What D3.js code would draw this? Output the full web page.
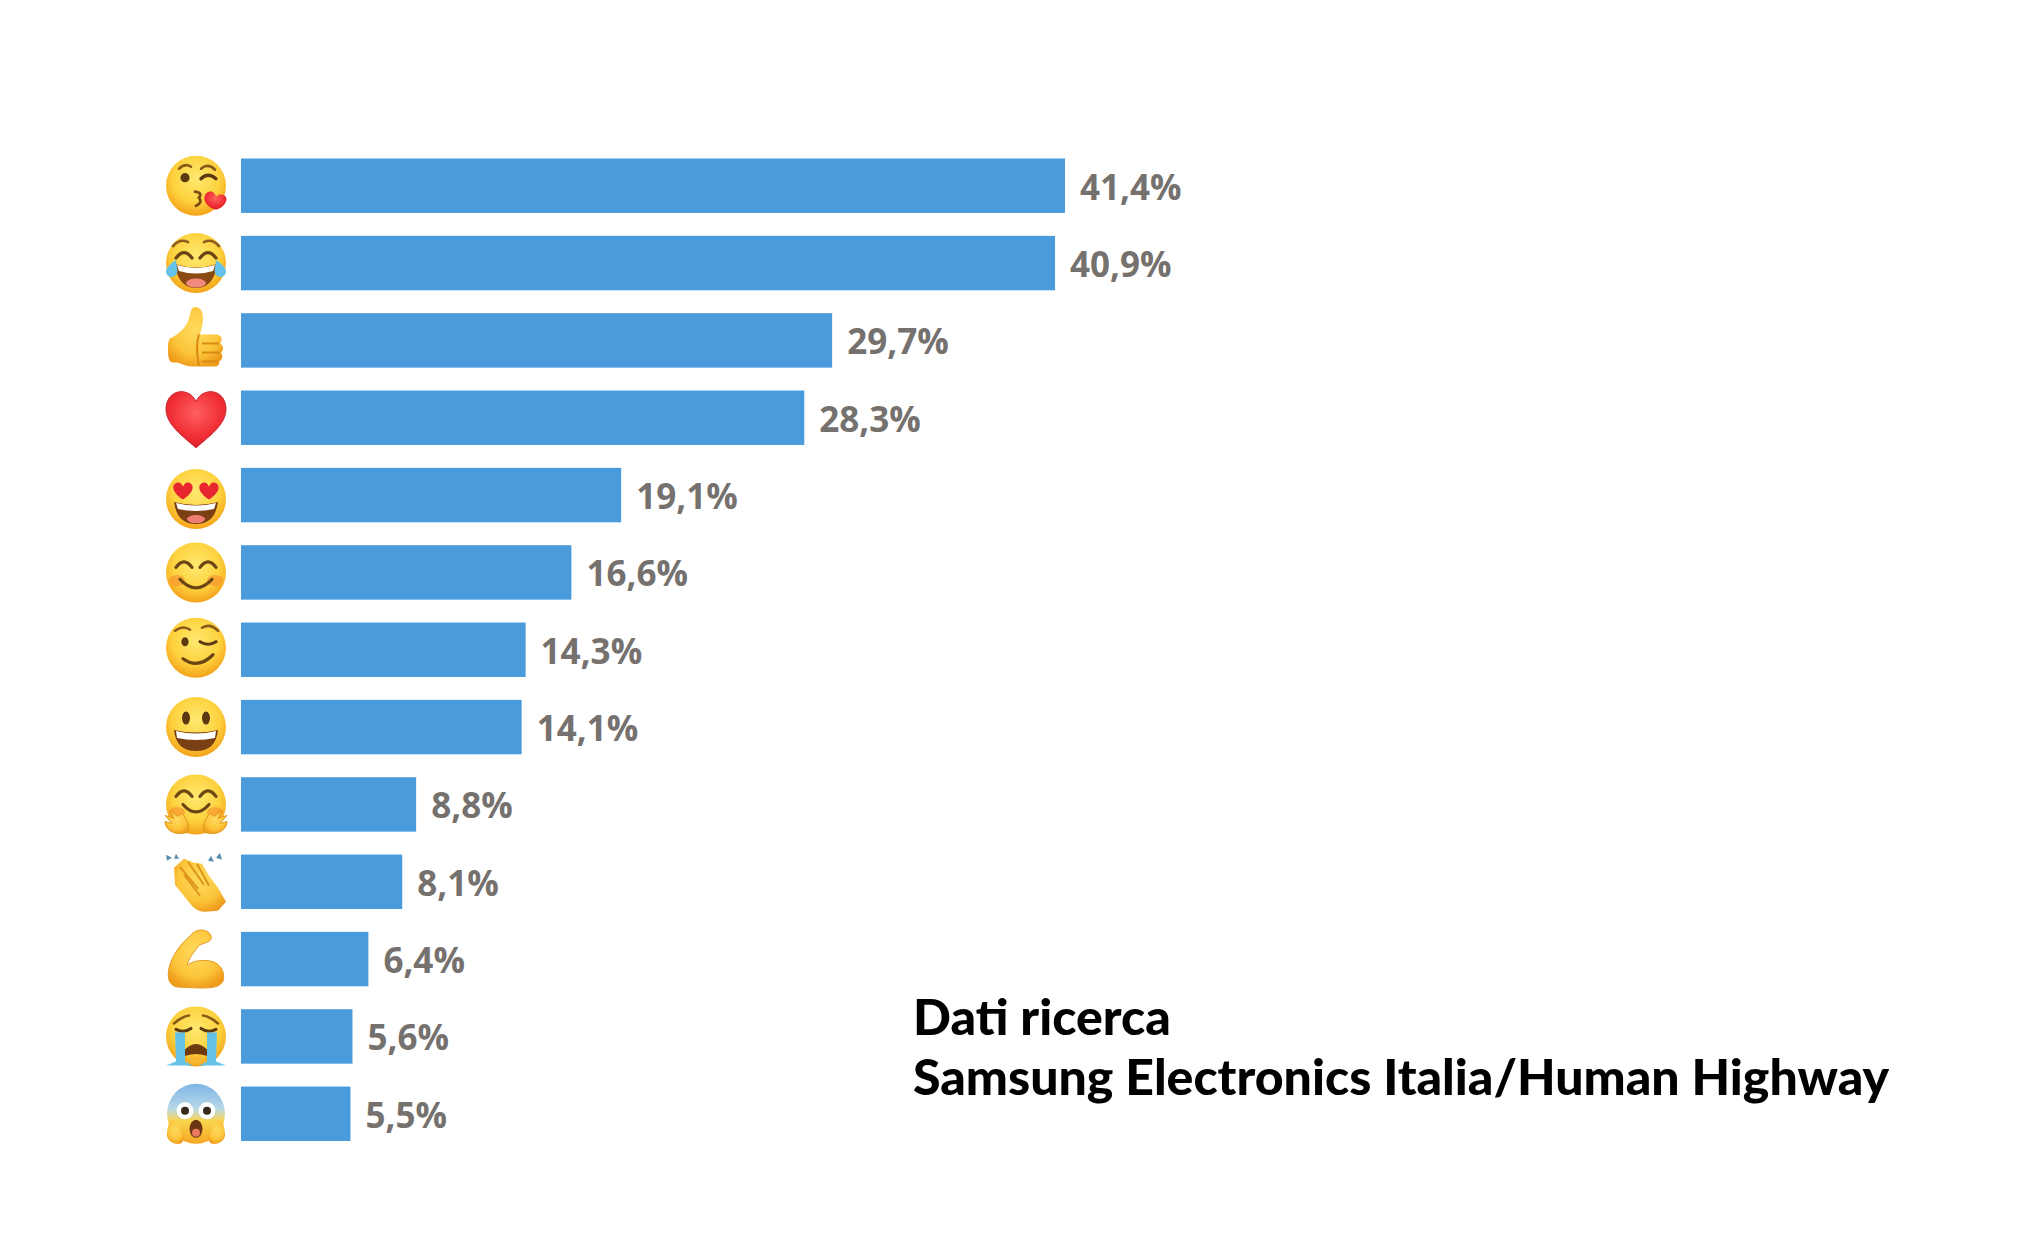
<!DOCTYPE html>
<html><head><meta charset="utf-8">
<script src="https://cdn.jsdelivr.net/npm/d3@7/dist/d3.min.js"></script>
<style>html,body{margin:0;padding:0;background:#fff;overflow:hidden}svg{display:block}</style>
</head><body><svg id="c" width="2033" height="1260"></svg>
<script>
const categories = ["kiss","joy","thumb","heart","hearteyes","smile","wink","grin","hug","clap","muscle","cry","scream"];
const values = [41.4,40.9,29.7,28.3,19.1,16.6,14.3,14.1,8.8,8.1,6.4,5.6,5.5];
const noteLines = ["Dati ricerca","Samsung Electronics Italia/Human Highway"];

const fmt = d3.formatLocale({decimal:",",thousands:".",grouping:[3],currency:["","€"]}).format(".1f");
const svg = d3.select("#c");
const x = d3.scaleLinear().domain([0,41.4]).range([241,1065]);
const y = d3.scaleBand().domain(categories).range([158.5,1141]).paddingInner(0.296);

const defs = svg.append("defs");
function radial(id,stops){const g=defs.append("radialGradient").attr("id",id).attr("cx","50%").attr("cy","38%").attr("r","65%");
  stops.forEach(s=>g.append("stop").attr("offset",s[0]).attr("stop-color",s[1]));}
radial("face",[["0","#ffe971"],["0.6","#fdd23e"],["1","#f39c16"]]);
radial("hand",[["0","#ffdb5e"],["0.65","#fcc53a"],["1","#ee9a1a"]]);
radial("red",[["0","#ff6060"],["0.7","#ee2b32"],["1","#d81f2a"]]);
const fearG = defs.append("linearGradient").attr("id","fearF").attr("x1",0).attr("y1",0).attr("x2",0).attr("y2",1);
[["0","#7fb4e6"],["0.42","#b9d9e8"],["0.62","#fbd44e"],["1","#f5a623"]].forEach(s=>fearG.append("stop").attr("offset",s[0]).attr("stop-color",s[1]));

const F = '<circle r="30" fill="url(#face)"/>';
const blush = '<ellipse cx="-19" cy="8" rx="8" ry="5.5" fill="#f78d2e" opacity=".6"/><ellipse cx="19" cy="8" rx="8" ry="5.5" fill="#f78d2e" opacity=".6"/>';
const arcEye = (cx,cy)=>`<path d="M${cx-8} ${cy+3}Q${cx} ${cy-8} ${cx+8} ${cy+3}" fill="none" stroke="#6b4413" stroke-width="3.2" stroke-linecap="round"/>`;
const heartEye = cx=>`<g transform="translate(${cx} -8) scale(1.05)"><path d="M0 8C-11 1-11-6-6-8C-3-9-1-7 0-4C1-7 3-9 6-8C11-6 11 1 0 8Z" fill="#e8262f"/></g>`;
const icons = {
 kiss: F+`<path d="M-17-17Q-11-23-5-19M5-17Q12-23 19-16" fill="none" stroke="#8a5a1a" stroke-width="2.6" stroke-linecap="round"/>
  <circle cx="-11" cy="-8" r="4.6" fill="#5b3a12"/><path d="M5-7Q12-14 20-7" fill="none" stroke="#5b3a12" stroke-width="3.4" stroke-linecap="round"/>
  <path d="M-1 6Q7 7 3 12Q7 17 0 20" fill="none" stroke="#7a4c14" stroke-width="2.8" stroke-linecap="round"/>`+
  `<path d="M20 24C6 20 6 8 13 6C17 5 19 8 20 11C23 8 27 8 30 11C32 15 28 22 20 24Z" fill="url(#red)"/>`,
 joy: F+`<path d="M-23-17Q-16-25-8-21M8-21Q16-25 23-17" fill="none" stroke="#8a5a1a" stroke-width="2.6" stroke-linecap="round"/>`+arcEye(-12,-8)+arcEye(12,-8)+
  `<path d="M-21 1Q0 8 21 1Q18 25 0 25Q-18 25-21 1Z" fill="#8b4a14"/><path d="M-19 2Q0 8 19 2L17 8Q0 13-17 8Z" fill="#fff"/><ellipse cy="20" rx="10" ry="4.5" fill="#f18a7e"/>
  <path d="M-20-3C-28 2-33 8-28 13C-23 16-17 12-19 5Z" fill="#64c3e8"/><path d="M20-3C28 2 33 8 28 13C23 16 17 12 19 5Z" fill="#64c3e8"/>`,
 thumb: `<g transform="translate(0 -3)"><path d="M-26 1C-20-2-13-7-9-14C-6-20-6-27-3-30C2-32 7-28 7-20C7-13 5-7 4-3H20C26-3 27 3 24 6C28 8 28 13 25 15C27 18 27 22 23 24C24 27 22 29 18 29H-4C-10 29-14 26-19 25H-23C-27 25-28 20-28 12C-28 7-28 3-26 1Z" fill="url(#hand)"/>
  <path d="M3-3Q-1 10 3 28M6 6H23M6 15H24M6 24H22" fill="none" stroke="#d98a14" stroke-width="2"/></g>`,
 heart: `<path d="M0 30C-18 15-30 5-30-9C-30-21-21-27-13-26C-6-25-2-21 0-16C2-21 6-25 13-26C21-27 30-21 30-9C30 5 18 15 0 30Z" fill="url(#red)" stroke="#c82a32" stroke-width="1"/>`,
 hearteyes: `<g transform="translate(0 4)">`+F+`<path d="M-22 3Q0 9 22 3Q19 25 0 25Q-19 25-22 3Z" fill="#7a3f12"/><path d="M-20 4Q0 9 20 4L18 10Q0 14-18 10Z" fill="#fff"/><ellipse cy="20" rx="9" ry="4" fill="#ef7e72"/>`+heartEye(-13)+heartEye(13)+`</g>`,
 smile: F+blush+arcEye(-12,-8)+arcEye(12,-8)+`<path d="M-16 7Q0 24 16 7" fill="none" stroke="#6b4413" stroke-width="3.2" stroke-linecap="round"/>`,
 wink: `<g transform="translate(0 -2)">`+F+`<path d="M-21-17Q-13-23-6-18M6-20Q14-25 22-17" fill="none" stroke="#8a5a1a" stroke-width="2.6" stroke-linecap="round"/>
  <ellipse cx="-11" cy="-6" rx="3.6" ry="4.6" fill="#5b3a12"/><path d="M4-6Q12-1 20-6" fill="none" stroke="#5b3a12" stroke-width="3.2" stroke-linecap="round"/>
  <path d="M-13 11Q2 22 17 7" fill="none" stroke="#6b4413" stroke-width="3.2" stroke-linecap="round"/></g>`,
 grin: F+`<ellipse cx="-10" cy="-9" rx="4" ry="6.5" fill="#5b3a12"/><ellipse cx="10" cy="-9" rx="4" ry="6.5" fill="#5b3a12"/>
  <path d="M-22 3Q0 8 22 3Q20 24 0 24Q-20 24-22 3Z" fill="#7a3f12"/><path d="M-20 4Q0 9 20 4L19 11Q0 15-19 11Z" fill="#fff"/>`,
 hug: F+blush+arcEye(-12,-11)+arcEye(12,-11)+`<path d="M-13 0Q0 15 13 0" fill="none" stroke="#6b4413" stroke-width="3.2" stroke-linecap="round"/>
  <path d="M-14 29C-24 30-31 24-31 17L-24 19L-31 11L-22 14L-27 6L-18 12L-14 9C-9 14-6 22-8 28Z" fill="url(#hand)" stroke="#e39a1f" stroke-width="1"/>
  <path d="M14 29C24 30 31 24 31 17L24 19L31 11L22 14L27 6L18 12L14 9C9 14 6 22 8 28Z" fill="url(#hand)" stroke="#e39a1f" stroke-width="1"/>`,
 clap: `<path d="M-22-14L-12-23L-2-19L6-18L13-6L22 6L30 20L22 29L9 30C0 30-4 24-9 18L-21 3Z" fill="url(#hand)"/>
  <path d="M-16-15L2 7M-8-20L8 3M1-18L13 4M-12-7L4 14" stroke="#dc9418" stroke-width="2" fill="none"/>
  <path d="M-30-27l6 3-5 3zM-20-28l3 5-5 0zM15-26l3 6-6-1zM24-29l2 7-6-2z" fill="#5a8fb0"/>`,
 muscle: `<path d="M-18 28C-27 27-29 19-27 9C-24-3-16-15-6-23C-2-29 6-31 12-27C17-24 16-18 11-17C7-15 3-15 1-11C-3-6-8 1-9 6C-2 1 10 0 18 3C27 7 29 16 27 22C22 31 8 29-18 28Z" fill="url(#hand)" stroke="#e39a1f" stroke-width="1"/>`,
 cry: F+`<path d="M-22-13Q-14-20-7-21M7-21Q14-20 22-13" fill="none" stroke="#8a5a1a" stroke-width="2.6" stroke-linecap="round"/><path d="M-20-7Q-12-3-5-8M5-8Q12-3 20-7" fill="none" stroke="#5b3a12" stroke-width="3" stroke-linecap="round"/>
  <path d="M-13 15Q0 0 13 15L13 20Q0 15-13 20Z" fill="#6b3a12"/><path d="M-9 22Q0 18 9 22Q8 27 0 27Q-8 27-9 22Z" fill="#f7b733"/>
  <path d="M-21-4L-11-4L-11 25L-3 29H-30L-20 25Z" fill="#63c2e6"/><path d="M21-4L11-4L11 25L3 29H30L20 25Z" fill="#63c2e6"/>`,
 scream: `<ellipse rx="29" ry="30" fill="url(#fearF)"/><circle cx="-11" cy="-3" r="8.5" fill="#fff"/><circle cx="11" cy="-3" r="8.5" fill="#fff"/><circle cx="-11" cy="-3" r="4" fill="#3a2a1c"/><circle cx="11" cy="-3" r="4" fill="#3a2a1c"/>
  <ellipse cy="15" rx="6.5" ry="9" fill="#6b3412"/><ellipse cy="19" rx="4" ry="4" fill="#e87a5e"/>
  <path d="M-16 30C-24 31-30 26-29 19C-28 11-27 6-22 7C-18 8-16 16-13 20C-11 24-12 28-16 30Z" fill="url(#hand)"/><path d="M16 30C24 31 30 26 29 19C28 11 27 6 22 7C18 8 16 16 13 20C11 24 12 28 16 30Z" fill="url(#hand)"/>`
};

svg.append("g").selectAll("rect").data(categories).join("rect")
  .attr("x",x(0)).attr("y",d=>y(d)).attr("height",y.bandwidth())
  .attr("width",(d,i)=>x(values[i])-x(0)).attr("fill","#4a9bdc");

svg.append("g").selectAll("g").data(categories).join("g")
  .attr("transform",d=>`translate(196 ${y(d)+y.bandwidth()/2})`)
  .html(d=>icons[d]);

svg.append("g").selectAll("text").data(categories).join("text")
  .attr("x",(d,i)=>x(values[i])+15).attr("y",d=>y(d)+y.bandwidth()/2+14)
  .attr("font-family","'Open Sans'").attr("font-weight",700).attr("font-size",35)
  .attr("fill","#75716e").text((d,i)=>fmt(values[i])+"%");

svg.append("g").selectAll("text").data(noteLines).join("text")
  .attr("x",913).attr("y",(d,i)=>1035+i*60)
  .attr("font-family","Lato").attr("font-weight",900).attr("font-size",50)
  .attr("fill","#000").text(d=>d);
</script></body></html>
